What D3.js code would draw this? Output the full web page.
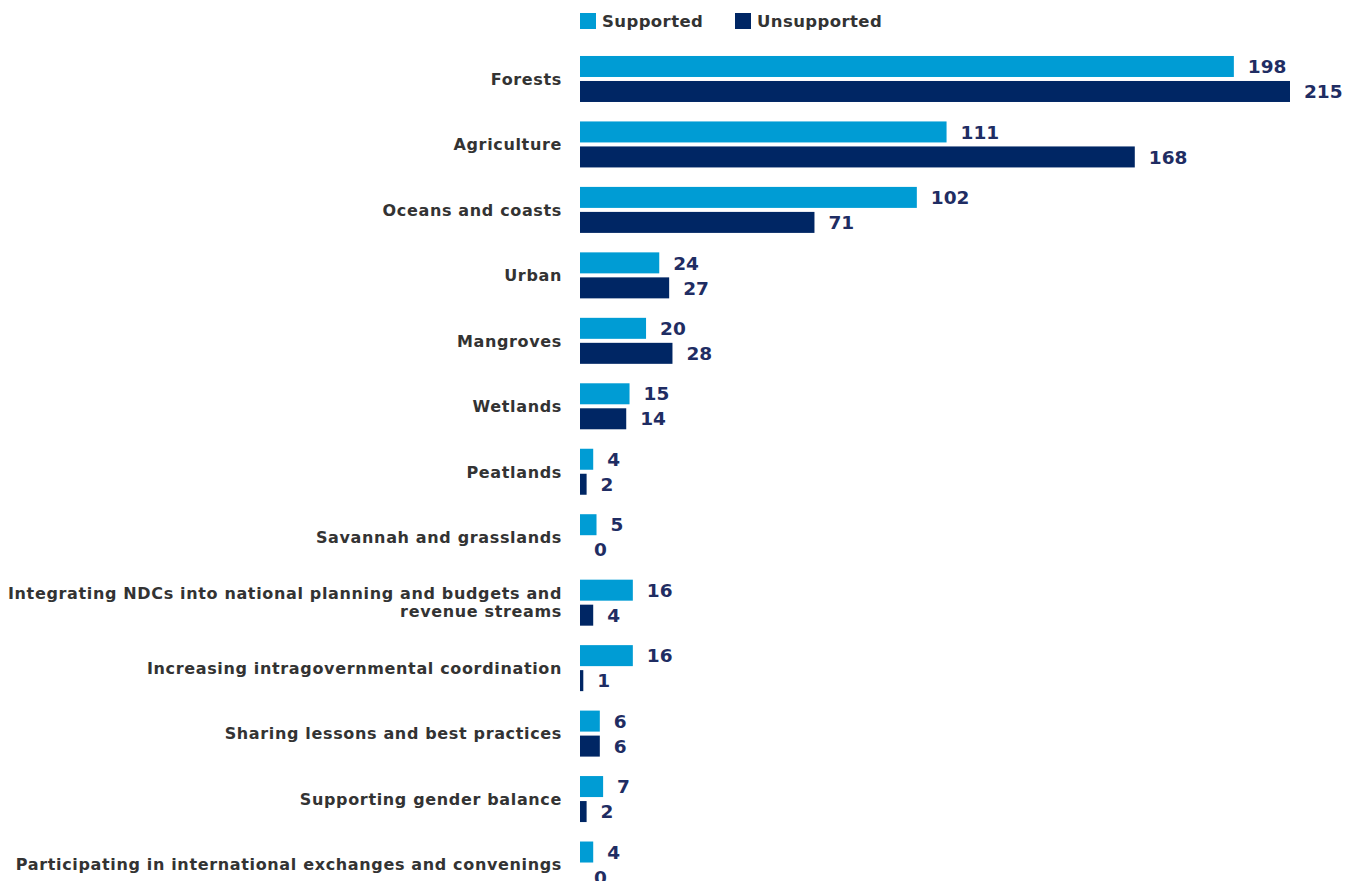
<!DOCTYPE html>
<html>
<head>
<meta charset="utf-8">
<script src="https://cdn.jsdelivr.net/npm/d3@7"></script>
<style>
  body { margin: 0; background: #fff; }
  svg text { font-family: "DejaVu Sans", "Open Sans", sans-serif; font-weight: 700; }
</style>
</head>
<body>
<svg id="chart" width="1353" height="881"></svg>
<script>
const categories = [
  "Forests", "Agriculture", "Oceans and coasts", "Urban", "Mangroves", "Wetlands",
  "Peatlands", "Savannah and grasslands",
  "Integrating NDCs into national planning and budgets and revenue streams",
  "Increasing intragovernmental coordination", "Sharing lessons and best practices",
  "Supporting gender balance", "Participating in international exchanges and convenings"
];
const supported = [198, 111, 102, 24, 20, 15, 4, 5, 16, 16, 6, 7, 4];
const unsupported = [215, 168, 71, 27, 28, 14, 2, 0, 4, 1, 6, 2, 0];
const seriesNames = ["Supported", "Unsupported"];
const colors = ["#009cd4", "#002664"];

// two-line label split
const labelLines = {
  "Integrating NDCs into national planning and budgets and revenue streams":
    ["Integrating NDCs into national planning and budgets and", "revenue streams"]
};

const svg = d3.select("#chart");

const x = d3.scaleLinear().domain([0, 215]).range([580, 1290]);
const y = d3.scaleBand().domain(categories).range([46.25, 897.25]).padding(0);
const yInner = d3.scaleBand().domain(seriesNames).range([-23, 23]).paddingInner(0.16);

const rows = categories.map((c, i) => ({ cat: c, values: [supported[i], unsupported[i]] }));

const g = svg.selectAll(".row").data(rows).join("g")
  .attr("class", "row")
  .attr("transform", d => `translate(0,${y(d.cat) + y.bandwidth() / 2})`);

g.selectAll("rect").data(d => d.values.map((v, j) => ({ v, s: seriesNames[j], j })))
  .join("rect")
  .attr("x", x(0))
  .attr("y", d => yInner(d.s))
  .attr("width", d => x(d.v) - x(0))
  .attr("height", yInner.bandwidth())
  .attr("fill", d => colors[d.j]);

g.selectAll(".val").data(d => d.values.map((v, j) => ({ v, s: seriesNames[j] })))
  .join("text")
  .attr("class", "val")
  .attr("x", d => x(d.v) + 14)
  .attr("y", d => yInner(d.s) + yInner.bandwidth() / 2)
  .attr("dy", "0.36em")
  .attr("font-size", 18.5)
  .attr("fill", "#1f2d63")
  .text(d => d.v);

g.each(function(d) {
  const lines = labelLines[d.cat] || [d.cat];
  const t = d3.select(this).append("text")
    .attr("class", "cat")
    .attr("text-anchor", "end")
    .attr("font-size", 16)
    .attr("letter-spacing", 0.65)
    .attr("fill", "#333333");
  lines.forEach((l, k) => {
    t.append("tspan")
      .attr("x", 562)
      .attr("y", (k - (lines.length - 1) / 2) * 18)
      .attr("dy", "0.36em")
      .text(l);
  });
});

// legend
const legendX = [580, 735];
const lg = svg.selectAll(".legend").data(seriesNames).join("g")
  .attr("class", "legend")
  .attr("transform", (d, i) => `translate(${legendX[i]},13)`);
lg.append("rect").attr("width", 16).attr("height", 16).attr("fill", (d, i) => colors[i]);
lg.append("text").attr("x", 22).attr("y", 8).attr("dy", "0.36em")
  .attr("font-size", 16.5).attr("letter-spacing", 0.4)
  .attr("fill", "#333333").text(d => d);
</script>
</body>
</html>
